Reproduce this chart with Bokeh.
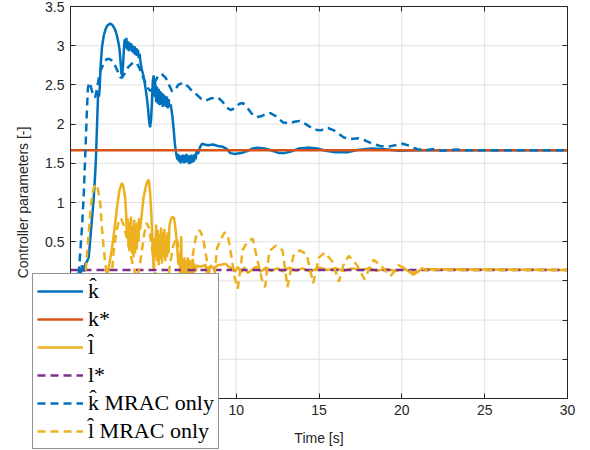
from bokeh.plotting import figure
from bokeh.models import (Range1d, LinearAxis, FixedTicker, Legend, LegendItem,
                          CustomJSTickFormatter)
from bokeh.embed import file_html
from bokeh.resources import INLINE

# ---------------- data ----------------
x_ticks = [0, 5, 10, 15, 20, 25, 30]
y_ticks = [-1.5, -1, -0.5, 0, 0.5, 1, 1.5, 2, 2.5, 3, 3.5]

k_star = 1.665
l_star = 0.14
t_const = [0, 30]

t_k = [0, 0.3, 0.45, 0.5, 0.55, 0.6, 0.7, 0.8, 0.9, 1.0, 1.1, 1.2, 1.3, 1.4, 1.5,
       1.55, 1.62, 1.67, 1.72, 1.76, 1.82, 1.9, 2.0, 2.1, 2.2, 2.3, 2.4, 2.5, 2.6,
       2.7, 2.8, 2.9, 2.96, 3.02, 3.07, 3.12, 3.17, 3.22, 3.27,
       3.32, 3.37, 3.42, 3.47, 3.52, 3.57, 3.62, 3.67, 3.72, 3.77, 3.82, 3.87,
       3.92, 3.97, 4.02, 4.07, 4.12, 4.17, 4.22, 4.3, 4.4, 4.5, 4.6, 4.68, 4.74,
       4.8, 4.86, 4.92, 4.97, 5.02, 5.07, 5.12, 5.17, 5.22, 5.27, 5.32, 5.37,
       5.42, 5.47, 5.52, 5.57, 5.62, 5.67, 5.72, 5.77, 5.82, 5.87, 5.92, 5.97,
       6.05, 6.15, 6.22, 6.3, 6.38, 6.45, 6.5, 6.55, 6.6, 6.65, 6.7, 6.75, 6.8,
       6.85, 6.9, 6.95, 7.0, 7.05, 7.1, 7.15, 7.2, 7.25, 7.3, 7.35, 7.4, 7.45,
       7.5, 7.55, 7.62, 7.7, 7.78, 7.85, 7.95, 8.1, 8.3, 8.6, 8.9, 9.2, 9.45,
       9.65, 9.9, 10.3, 10.7, 11.0, 11.3, 11.7, 12.2, 12.6, 12.9, 13.3, 13.8,
       14.3, 14.9, 15.4, 16.0, 16.7, 17.3, 18.2, 19.0, 19.8, 21, 23, 30]
k_hat = [0.0, 0.02, 0.1, 0.05, 0.15, 0.08, 0.2, 0.12, 0.22, 0.25, 0.3, 0.55, 0.8, 1.05, 1.4,
         1.65, 2.1, 2.42, 2.35, 2.45, 2.75, 2.98, 3.12, 3.2, 3.25, 3.27, 3.28, 3.27, 3.24,
         3.2, 3.13, 3.03, 2.95, 2.8, 2.65, 2.62, 2.75, 2.95, 3.08,
         2.97, 3.1, 2.95, 3.06, 2.93, 3.04, 2.94, 3.03, 2.92, 3.0, 2.9, 2.99,
         2.88, 2.97, 2.87, 2.95, 2.84, 2.9, 2.8, 2.7, 2.62, 2.5, 2.35, 2.2, 2.05,
         1.96, 2.05, 2.3, 2.55, 2.62, 2.35, 2.52, 2.28, 2.48, 2.26, 2.45, 2.24,
         2.42, 2.25, 2.4, 2.22, 2.38, 2.24, 2.36, 2.22, 2.35, 2.2, 2.32, 2.22,
         2.25, 2.1, 1.95, 1.75, 1.62, 1.55, 1.62, 1.52, 1.6, 1.5, 1.6, 1.52, 1.61,
         1.5, 1.6, 1.51, 1.62, 1.52, 1.6, 1.49, 1.6, 1.5, 1.61, 1.51, 1.6, 1.52,
         1.62, 1.55, 1.66, 1.62, 1.68, 1.72, 1.75, 1.74, 1.73, 1.74, 1.72, 1.71, 1.68,
         1.63, 1.62, 1.63, 1.66, 1.69, 1.7, 1.69, 1.66, 1.63, 1.63, 1.65, 1.69,
         1.7, 1.69, 1.66, 1.64, 1.64, 1.67, 1.69, 1.68, 1.66, 1.665, 1.665, 1.665]

t_l = [0, 0.2, 0.5, 1.0, 1.5, 1.9, 2.1, 2.2, 2.35, 2.5, 2.65, 2.8, 2.95, 3.1, 3.2,
       3.3, 3.36, 3.4, 3.45, 3.5, 3.55, 3.6, 3.65, 3.7, 3.75, 3.8, 3.85, 3.9,
       3.95, 4.0, 4.05, 4.1, 4.15, 4.2, 4.3, 4.4, 4.52, 4.62, 4.72, 4.8, 4.88,
       4.95, 5.02, 5.07, 5.12, 5.17, 5.22, 5.27, 5.32, 5.37, 5.42, 5.47, 5.52,
       5.57, 5.62, 5.67, 5.72, 5.77, 5.82, 5.87, 5.92, 5.97, 6.05, 6.15, 6.25,
       6.35, 6.45, 6.52, 6.58, 6.63, 6.68, 6.73, 6.78, 6.83, 6.88, 6.93, 6.98,
       7.03, 7.08, 7.13, 7.18, 7.23, 7.28, 7.33, 7.38, 7.43, 7.48, 7.55, 7.65,
       7.8, 8.0, 8.15, 8.3, 8.45, 8.6, 8.9, 9.15, 9.35, 9.55, 9.75, 9.95, 10.1,
       10.3, 10.5, 10.7, 11.0, 11.2, 11.5, 11.8, 12.1, 12.5, 12.8, 13.2, 13.6,
       14.0, 14.5, 15.0, 15.5, 16.0, 16.5, 17.0, 17.5, 18.0, 18.5, 19.0, 19.6,
       20.2, 20.7, 21.2, 30]
l_hat = [0.0, 0.06, -0.1, -0.3, -0.4, -0.25, -0.05, 0.05, 0.22, 0.41, 0.65, 0.93, 1.15, 1.25, 1.2,
         1.06, 0.85, 0.6, 0.8, 0.45, 0.75, 0.4, 0.82, 0.35, 0.7, 0.3, 0.78, 0.35,
         0.72, 0.4, 0.75, 0.5, 0.8, 0.65, 0.85, 1.05, 1.18, 1.26, 1.29, 1.15, 0.85,
         0.45, 0.15, 0.55, 0.3, 0.72, 0.25, 0.65, 0.2, 0.6, 0.28, 0.68, 0.22,
         0.62, 0.3, 0.66, 0.25, 0.58, 0.3, 0.62, 0.35, 0.7, 0.78, 0.82, 0.8,
         0.65, 0.4, 0.2, 0.35, 0.05, 0.57, 0.0, 0.28, 0.05, 0.3, 0.02, 0.26,
         0.06, 0.3, 0.05, 0.27, 0.08, 0.25, 0.05, 0.28, 0.1, 0.22, 0.12, 0.2,
         0.18, 0.19, 0.21, 0.04, 0.2, 0.16, 0.2, 0.21, 0.22, 0.18, 0.16, 0.12, 0.18,
         0.11, 0.17, 0.1, 0.15, 0.18, 0.12, 0.17, 0.13, 0.16, 0.12, 0.17, 0.13,
         0.16, 0.12, 0.17, 0.14, 0.16, 0.13, 0.16, 0.14, 0.16, 0.13, 0.15, 0.13,
         0.15, 0.08, 0.15, 0.14]

t_km = [0, 0.3, 0.48, 0.6, 0.69, 0.8, 0.89, 0.99, 1.05, 1.12, 1.2, 1.3, 1.4, 1.49,
        1.6, 1.7, 1.8, 1.9, 2.05, 2.2, 2.35, 2.5, 2.6, 2.75, 2.9, 3.0, 3.1, 3.2,
        3.35, 3.5, 3.7, 3.9, 4.0, 4.15, 4.3, 4.5, 4.7, 4.85, 5.0, 5.15, 5.3, 5.5,
        5.75, 5.95, 6.13, 6.3, 6.5, 6.8, 7.1, 7.35, 7.6, 7.9, 8.15, 8.5, 8.9, 9.2,
        9.45, 9.66, 9.9, 10.2, 10.4, 10.7, 11.0, 11.2, 11.5, 11.8, 12.07, 12.4,
        12.84, 13.2, 13.5, 13.83, 14.2, 14.7, 15.1, 15.54, 15.9, 16.5, 16.9,
        17.35, 17.8, 18.22, 18.7, 19.13, 19.6, 20.07, 20.5, 20.94, 21.5, 22.0,
        22.4, 23.3, 24, 30]
k_mrac = [0.0, -0.2, 0.03, 0.4, 0.67, 1.1, 1.6, 2.17, 2.45, 2.53, 2.5, 2.42, 2.36, 2.34,
          2.45, 2.58, 2.68, 2.72, 2.8, 2.83, 2.83, 2.81, 2.79, 2.72, 2.65, 2.6, 2.59, 2.62,
          2.68, 2.73, 2.77, 2.79, 2.78, 2.72, 2.64, 2.54, 2.45, 2.42, 2.47, 2.56, 2.62, 2.64,
          2.59, 2.5, 2.42, 2.43, 2.5, 2.53, 2.48, 2.42, 2.38, 2.32, 2.3, 2.33, 2.34, 2.28,
          2.21, 2.18, 2.2, 2.26, 2.27, 2.2, 2.12, 2.09, 2.1, 2.13, 2.14, 2.1,
          2.02, 2.01, 2.03, 2.04, 2.0, 1.93, 1.92, 1.95, 1.92, 1.83, 1.81,
          1.82, 1.79, 1.75, 1.72, 1.71, 1.73, 1.75, 1.72, 1.68, 1.67, 1.685,
          1.66, 1.675, 1.665, 1.665]

t_lm = [0, 0.4, 0.75, 0.89, 1.0, 1.09, 1.2, 1.29, 1.4, 1.5, 1.6, 1.7, 1.8, 1.9, 2.0,
        2.1, 2.25, 2.4, 2.5, 2.6, 2.75, 2.9, 3.05, 3.2, 3.4, 3.6, 3.8, 4.0, 4.15,
        4.3, 4.45, 4.6, 4.75, 4.9, 5.05, 5.2, 5.4, 5.6, 5.8, 6.0, 6.2, 6.4, 6.6,
        6.8, 7.0, 7.2, 7.4, 7.6, 7.8, 8.0, 8.2, 8.4, 8.6, 8.85, 9.05, 9.3, 9.5,
        9.7, 9.9, 10.1, 10.4, 10.7, 11.0, 11.3, 11.55, 11.75, 12.0, 12.4, 12.8,
        13.1, 13.45, 13.85, 14.25, 14.65, 15.0, 15.35, 15.8, 16.2, 16.5, 16.8,
        17.3, 17.75, 18.0, 18.3, 18.8, 19.3, 19.55, 19.8, 20.3, 20.7, 21.2,
        21.7, 22.2, 23, 30]
l_mrac = [0.0, -0.15, -0.1, 0.03, 0.35, 0.59, 0.88, 1.06, 1.18, 1.23, 1.22, 1.12, 0.98, 0.67, 0.42,
          0.22, 0.0, -0.15, 0.1, 0.37, 0.6, 0.75, 0.8, 0.72, 0.55, 0.35, 0.18, 0.03, 0.15,
          0.37, 0.6, 0.74, 0.66, 0.45, 0.2, 0.0, -0.25, -0.3, -0.1, 0.2, 0.45, 0.55, 0.35,
          0.05, -0.15, 0.05, 0.35, 0.6, 0.65, 0.55, 0.3, 0.02, -0.12, 0.42, 0.52, 0.62, 0.58,
          0.33, 0.05, -0.1, 0.4, 0.5, 0.54, 0.25, 0.02, -0.08, 0.38, 0.45, 0.39,
          -0.08, 0.32, 0.39, 0.34, -0.03, 0.3, 0.36, 0.25, -0.01, 0.22, 0.32,
          0.2, 0.02, 0.14, 0.27, 0.18, 0.06, 0.12, 0.2, 0.15, 0.1, 0.16,
          0.12, 0.15, 0.14, 0.14]

# ---------------- layout (pixels) ----------------
W, H = 590, 450
PX_LEFT, PX_RIGHT = 70, 567      # canvas x of t=0 and t=30
PX_TOP, PX_BOTTOM = 6, 398       # canvas y of y=3.5 and y=-1.5
X0, X1 = x_ticks[0], x_ticks[-1]
Y0, Y1 = y_ticks[0], y_ticks[-1]
sx = (X1 - X0) / (PX_RIGHT - PX_LEFT)
sy = (Y1 - Y0) / (PX_BOTTOM - PX_TOP)
xr = Range1d(X0 - PX_LEFT * sx, X1 + (W - PX_RIGHT) * sx)
yr = Range1d(Y0 - (H - PX_BOTTOM) * sy, Y1 + PX_TOP * sy)

BLUE, ORANGE, YELLOW, PURPLE = "#0072BD", "#D95319", "#EDB120", "#7E2F8E"
AX = "#262626"
GRID = "#e1e1e1"
FONT = "Liberation Sans"

p = figure(width=W, height=H, output_backend="svg", toolbar_location=None,
           x_range=xr, y_range=yr, x_axis_type=None, y_axis_type=None,
           min_border=0, min_border_left=0, min_border_right=0,
           min_border_top=0, min_border_bottom=0)
p.background_fill_color = "white"
p.border_fill_color = "white"
p.outline_line_color = None

# grid lines (limited to the axes box)
p.segment(x0=x_ticks, x1=x_ticks, y0=[Y0] * len(x_ticks), y1=[Y1] * len(x_ticks),
          line_color=GRID, line_width=1, level="underlay")
p.segment(x0=[X0] * len(y_ticks), x1=[X1] * len(y_ticks), y0=y_ticks, y1=y_ticks,
          line_color=GRID, line_width=1, level="underlay")

r1 = p.line(t_k, k_hat, color=BLUE, line_width=2.5)
r2 = p.line(t_const, [k_star, k_star], color=ORANGE, line_width=2.5)
r3 = p.line(t_l, l_hat, color=YELLOW, line_width=2.5)
r4 = p.line(t_const, [l_star, l_star], color=PURPLE, line_width=2.5, line_dash="8 5")
r5 = p.line(t_km, k_mrac, color=BLUE, line_width=2.5, line_dash="8 5")
r6 = p.line(t_lm, l_mrac, color=YELLOW, line_width=2.5, line_dash="8 5")

fmt = CustomJSTickFormatter(code="return tick.toString();")
blank = CustomJSTickFormatter(code="return '';")

def style(ax, labels=True):
    ax.axis_line_color = AX
    ax.axis_line_width = 1
    ax.major_tick_line_color = AX
    ax.major_tick_in = 5
    ax.major_tick_out = 0
    ax.minor_tick_line_color = None
    ax.major_label_text_font = FONT
    ax.major_label_text_font_size = "14px"
    ax.major_label_text_color = AX
    ax.major_label_standoff = 6
    ax.axis_label_text_font = FONT
    ax.axis_label_text_font_size = "14px"
    ax.axis_label_text_font_style = "normal"
    ax.axis_label_text_color = AX
    ax.formatter = fmt if labels else blank

xb = LinearAxis(fixed_location=Y0, bounds=(X0, X1), ticker=FixedTicker(ticks=x_ticks),
                axis_label="Time [s]")
style(xb)
xb.axis_label_standoff = 12
xt = LinearAxis(fixed_location=Y1, bounds=(X0, X1), ticker=FixedTicker(ticks=x_ticks))
style(xt, labels=False)
yl = LinearAxis(fixed_location=X0, bounds=(Y0, Y1), ticker=FixedTicker(ticks=y_ticks),
                axis_label="Controller parameters [-]")
style(yl)
yl.axis_label_standoff = 6
yrt = LinearAxis(fixed_location=X1, bounds=(Y0, Y1), ticker=FixedTicker(ticks=y_ticks))
style(yrt, labels=False)

p.add_layout(xb, "below")
p.add_layout(xt, "above")
p.add_layout(yl, "left")
p.add_layout(yrt, "right")

legend = Legend(items=[
    LegendItem(label="k\u0302", renderers=[r1]),
    LegendItem(label="k*", renderers=[r2]),
    LegendItem(label="l\u0302", renderers=[r3]),
    LegendItem(label="l*", renderers=[r4]),
    LegendItem(label="k\u0302 MRAC only", renderers=[r5]),
    LegendItem(label="l\u0302 MRAC only", renderers=[r6]),
], location=(32, 1))
legend.label_text_font = "Liberation Serif"
legend.label_text_font_size = "22px"
legend.label_text_color = "black"
legend.glyph_width = 46
legend.glyph_height = 24
legend.label_height = 24
legend.label_standoff = 5
legend.spacing = 2
legend.padding = 4
legend.margin = 0
legend.border_line_color = AX
legend.border_line_width = 1
legend.background_fill_color = "white"
legend.background_fill_alpha = 1.0
p.add_layout(legend, "center")

open("out.html", "w").write(file_html(p, INLINE))
